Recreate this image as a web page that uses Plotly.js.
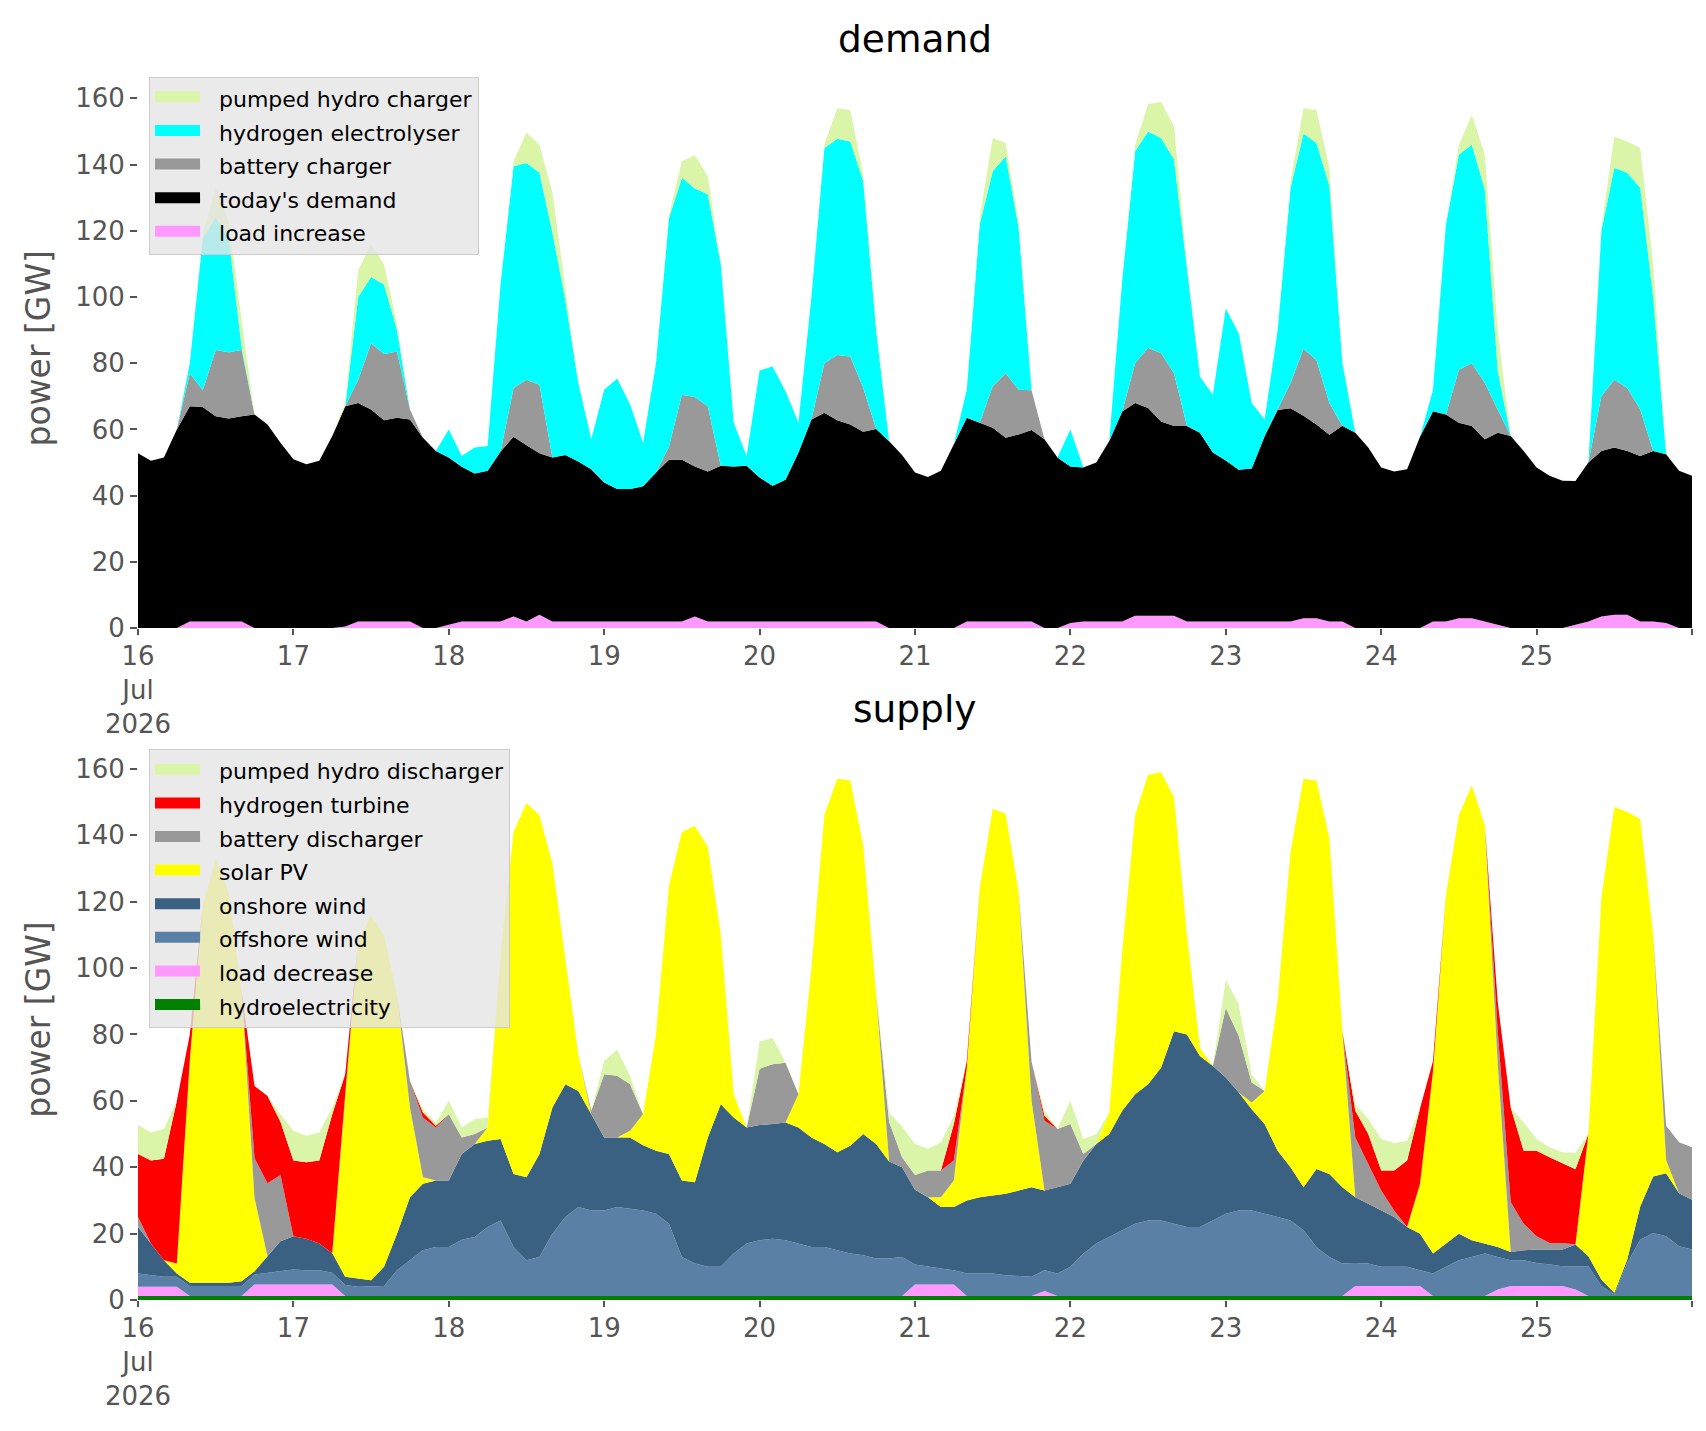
<!DOCTYPE html>
<html>
<head>
<meta charset="utf-8">
<script src="https://cdn.plot.ly/plotly-3.0.1.min.js"></script>
<style>
  html, body { margin: 0; padding: 0; background: #ffffff; }
  #chart { width: 1706px; height: 1431px; }
</style>
</head>
<body>
<div id="chart"></div>
<script>
// 2-hourly samples, 16 Jul 2026 00:00 -> 26 Jul 2026 00:00 (one row per day)
var startDate = Date.UTC(2026, 6, 16, 0);
var stepHours = 2;

var dayTicks = ['2026-07-16', '2026-07-17', '2026-07-18', '2026-07-19', '2026-07-20',
                '2026-07-21', '2026-07-22', '2026-07-23', '2026-07-24', '2026-07-25', '2026-07-26'];
var dayLabels = ['16<br>Jul<br>2026', '17', '18', '19', '20', '21', '22', '23', '24', '25', ''];

// ---- demand side [GW]
var loadIncrease = [
  0,0,0,0,2,2,2,2,2,0,0,0,
  0,0,0,0,0.5,2,2,2,2,2,0,0,
  1,2,2,2,2,3.5,2,4,2,2,2,2,
  2,2,2,2,2,2,2,3.5,2,2,2,2,
  2,2,2,2,2,2,2,2,2,2,0,0,
  0,0,0,0,2,2,2,2,2,2,0,0,
  1.5,2,2,2,2,3.7,3.7,3.7,3.7,2,2,2,
  2,2,2,2,2,2,3,3,2,2,0,0,
  0,0,0,0,2,2,3,3,2,1,0,0,
  0,0,0,1,2,3.5,4,4,2,2,1.5,0,
  0];

var todaysDemand = [
  52.8,50.5,51.5,60,65,64.8,62,61.3,62,64.5,61.5,56,
  51,49.5,50.5,58,66.5,66,64,60.8,61.5,61,57.5,53.5,
  50.5,46.7,44.7,45.5,51.3,54.3,53.2,48.8,49.5,50.3,48.3,46,
  42,40,40,40.8,45,48.8,48.8,45.3,45.3,47,46.8,47,
  43.5,41,42.8,51,61,63,60.8,59.5,57.3,58.1,56.4,52.3,
  47,45.6,47.5,55.5,61.5,60,58.5,55.5,56.5,57.8,57,51.5,
  47.3,46.5,48,54.5,63.4,64.3,62.8,58.7,57.3,59,57,51,
  48.6,45.8,46.2,56,63.9,64.4,61.1,58.5,56.4,59.1,59,54.5,
  48.5,47.3,48,57.8,63.5,62.5,59,58,55,58,58,53.5,
  48.5,46,44.5,43.4,48,50,50.5,49.5,50,51.5,51,47.5,
  46];

var batteryCharger = [
  0,0,0,0,10,5,20,20,20,0,0,0,
  0,0,0,0,0,7,20,20,20,3,0,0,
  0,0,0,0,0,14.7,19.8,20.7,0,0,0,0,
  0,0,0,0,0,4,19.7,21,19.7,0,0,0,
  0,0,0,0,0,15,19.7,20.5,13.3,0,0,0,
  0,0,0,0,0,0,12.5,19.5,13.5,12,0,0,
  0,0,0,0,0,12,18.2,20.6,16,0,0,0,
  0,0,0,0,0,7.6,20.3,19.5,9.6,0,0,0,
  0,0,0,0,0,0,16,19,17,7,0,0,
  0,0,0,0,0,16.5,20.5,19,14,0,0,0,
  0];

var electrolyser = [
  0,0,0,0,3,46,40,34.7,1,0,0,0,
  0,0,0,0,0,25,20,21,6.5,0,0,0,
  8.5,3.3,7.8,7.5,50.7,67,65.5,64,68,46.7,23.7,9,
  28,33.4,25.5,13.2,33,69,65.5,63,64,61,13.2,3,
  32.3,36,26.7,9,37,65,65.3,65,62.4,29.9,0,0,
  0,0,0,0,8.5,60,65,65.5,49,0,0,0,
  11.2,0,0,0,39.6,64,65.3,65,64.5,47,17,17.5,
  45.9,41.2,19.8,5,24,59,65,65.5,65.5,19,0,0,
  0,0,0,0,6.5,57.5,65,66,58.5,11.7,0,0,
  0,0,0,0,0,50,64,65,67,46.5,0,0,
  0];

var pumpedCharger = [
  0,0,0,0,0,1,9,5,8,0,0,0,
  0,0,0,0,1,8,10,6,2,0,0,0,
  0,0,0,0,0,1.5,9.2,8.5,12,4,0,0,
  0,0,0,0,0,1,5,10,5.5,0,0,0,
  0,0,0,0,0,1,9.2,9.5,2,2,0,0,
  0,0,0,0,0,2,10,4,2,0,0,0,
  0,0,0,0,0,2,8.2,11,10,2,0,0,
  0,0,0,0,0,2,7.6,10,5.5,1,0,0,
  0,0,0,0,0,0,3,9,10.5,12,0,0,
  0,0,0,0,0,1,9.5,9.5,12,10,0,0,
  0];

// ---- supply side [GW]
var hydro = [
  1.2,1.2,1.2,1.2,1.2,1.2,1.2,1.2,1.2,1.2,1.2,1.2,
  1.2,1.2,1.2,1.2,1.2,1.2,1.2,1.2,1.2,1.2,1.2,1.2,
  1.2,1.2,1.2,1.2,1.2,1.2,1.2,1.2,1.2,1.2,1.2,1.2,
  1.2,1.2,1.2,1.2,1.2,1.2,1.2,1.2,1.2,1.2,1.2,1.2,
  1.2,1.2,1.2,1.2,1.2,1.2,1.2,1.2,1.2,1.2,1.2,1.2,
  1.2,1.2,1.2,1.2,1.2,1.2,1.2,1.2,1.2,1.2,1.2,1.2,
  1.2,1.2,1.2,1.2,1.2,1.2,1.2,1.2,1.2,1.2,1.2,1.2,
  1.2,1.2,1.2,1.2,1.2,1.2,1.2,1.2,1.2,1.2,1.2,1.2,
  1.2,1.2,1.2,1.2,1.2,1.2,1.2,1.2,1.2,1.2,1.2,1.2,
  1.2,1.2,1.2,1.2,1.2,1.2,1.2,1.2,1.2,1.2,1.2,1.2,
  1.2];

var loadDecrease = [
  2.8,2.8,2.8,2.8,0,0,0,0,0,3.5,3.5,3.5,
  3.5,3.5,3.5,3.5,0,0,0,0,0,0,0,0,
  0,0,0,0,0,0,0,0,0,0,0,0,
  0,0,0,0,0,0,0,0,0,0,0,0,
  0,0,0,0,0,0,0,0,0,0,0,0,
  3.5,3.5,3.5,3.5,0,0,0,0,0,0,1.5,0,
  0,0,0,0,0,0,0,0,0,0,0,0,
  0,0,0,0,0,0,0,0,0,0,3,3,
  3,3,3,3,0,0,0,0,0,2,3,3,
  3,3,3,2,0,0,0,0,0,0,0,0,
  0];

var offshoreWind = [
  4,3.5,3,3,3,3,3,3,3,3,3.5,4,
  4.5,4.3,4.3,3.5,3.3,2.8,2.8,3,7.8,10.8,13.8,14.8,
  14.8,17,17.8,20.8,22.8,14.8,10.8,11.8,18.8,23.8,26.8,25.8,
  25.8,26.8,26.3,25.8,24.8,21.8,11.8,9.8,8.8,8.8,12.8,15.8,
  16.8,17.3,16.8,15.8,14.8,14.8,13.8,12.8,12.3,11.3,11.3,11.8,
  6,5.3,4.8,4.3,6.8,6.8,6.8,6.3,6,5.8,6.3,6.8,
  8.8,12.8,15.8,17.8,19.8,21.8,22.8,22.8,21.8,20.8,20.8,22.8,
  24.8,25.8,25.8,24.8,23.8,22.8,19.8,14.8,11.8,9.8,7,6.8,
  5.8,5.8,5.8,4.8,6.8,8.8,10.8,11.8,12.8,9.8,7.8,7.8,
  7,6.5,6,7,9,3,0.5,10,17,19,18,15,
  14];

var onshoreWind = [
  14,9.5,5,1,1,1,1,1,1.5,1,5,9,
  10,9.5,8,6,2.5,2.5,2,5.8,11,19,20,20,
  20,25.8,28,26,24.5,22,25,31,38,40,35,29,
  22,21,21.5,19.6,19,21,23,24.5,39,49,41,35,
  34.7,34.5,35.5,35,33,31,29.5,32.5,36.5,34.5,29.2,27,
  22.5,21,18.5,19,22,23,23.5,24.5,25.8,27,24,26,
  25,28,30,31,36,39,41,46,58,58,51.5,46.5,
  41,35.5,30.5,27,20,16,13,23.5,25,23,19.8,18,
  17,15,12,11,6,7,8,5,3,3,2.5,3,
  4,4.5,5,6.5,3,2,0.5,1,10,17,19,16,
  15];

var solarPV = [
  0,0,0,3,67,113.6,127.8,117.8,87.3,22,0,0,
  0,0,0,0,55,101.5,110,99.8,72,27,2,0,
  0,0,0,4,55.5,103,112.7,102,73.5,38,11,0,
  0,0,2,9.4,35,80.8,105,107.3,87.5,51,7,0,
  0,0,0,10,51,99,112.5,110,87,45,0,0,
  0,0,3,8,40,93,116.5,114.5,90,26,0,0,
  0,0,0,6.5,48,84,93.2,89,70.5,30,2.5,0,
  0,0,2,10,45,95,123,117,101,47,0,0,
  0,0,0,15,55,105,126,137,126,55,0,0,
  0,0,0,0,36.8,114.8,146.3,134.8,116.8,72.8,4,0,
  0];

var batteryDischarger = [
  3,0,0,0,0,0,0,0,0,12,22,20,
  0,0,0,0,0,0,0,0,0,8,18,16,
  20,5,3,0,0,0,0,0,0,0,0,1,
  19,18.6,14,0,0,0,0,0,0,0,0,0,
  17,18,18,0,0,0,0,0,0,0,12,3,
  4.5,8,8,6,0,0,0,0,0,11.8,21,17.5,
  18,2,0,0,0,0,0,0,0,0,0,0,
  21,17,6,0,0,0,0,0,0,0,18,12,
  6,2,0,0,0,0,0,0,0,10,15,8,
  4,2,2,0,0,0,0,0,0,0,10.3,15.3,
  15.8];

var hydrogenTurbine = [
  19,25,30.6,49,7.8,0,0,0,0,21.8,26.3,16,
  22.8,23,25,41.8,6,0,0,0,0,0,1.5,0.5,
  0,0,0,0,0,0,0,0,0,0,0,0,
  0,0,0,0,0,0,0,0,0,0,0,0,
  0,0,0,0,0,0,0,0,0,0,0,0,
  0,0,0,11,2,0,0,0,0,0,1.5,0,
  0,0,0,0,0,0,0,0,0,0,0,0,
  0,0,0,0,0,0,0,0,0,0,8,9,
  6,12,20,22.8,3,0,0,0,0,8.7,28.5,22,
  25.8,25.8,24,22.7,0,0,0,0,0,0,0,0,
  0];

var pumpedDischarger = [
  8.8,8.5,8.9,0,0,0,0,0,0,0,0,2.3,
  9,8,8.5,2,0,0,0,0,0,0,1,1,
  4,3,4.5,3,0,0,0,0,0,0,0,0,
  4,7.8,2.5,0,0,0,0,0,0,0,0,0,
  8.1,8,0,0,0,0,0,0,0,0,2.7,9.3,
  9.3,6.6,8.5,2.5,0,0,0,0,0,0,1.5,0,
  7,4.5,3,0,0,0,0,0,0,0,0,0,
  8.5,9.5,2.5,0,0,0,0,0,0,0,2,4.5,
  9.5,8.3,6,0,0,0,0,0,0,0,0,8.5,
  3.5,3,3.3,5,0,0,0,0,0,0,0,0,
  0];

var colors = {
  pumped: '#daf5a8',
  electrolyser: '#00ffff',
  battery: '#999999',
  demand: '#000000',
  load: '#ff99ff',
  turbine: '#ff0000',
  solar: '#ffff00',
  onshore: '#3b6182',
  offshore: '#5b80a6',
  hydro: '#008000'
};

var FONT = 'DejaVu Sans, Verdana, sans-serif';
var GAP = '\u00a0\u00a0';

var times = [];
for (var i = 0; i < todaysDemand.length; i++) {
  var d = new Date(startDate + i * stepHours * 3600 * 1000);
  times.push(d.toISOString().slice(0, 16).replace('T', ' '));
}

// stacked area trace (no legend entry of its own)
function createTrace(name, y, color, group, xa, ya) {
  return {
    x: times,
    y: y,
    name: name,
    type: 'scatter',
    mode: 'lines',
    stackgroup: group,
    line: { width: 0, color: color },
    fillcolor: color,
    xaxis: xa,
    yaxis: ya,
    showlegend: false,
    hoverinfo: 'skip'
  };
}

// legend-only entry, drawn as a filled patch
function createLegendEntry(name, color, xa, ya, legend, rank) {
  return {
    x: [null],
    y: [null],
    name: GAP + name,
    type: 'scatter',
    mode: 'lines',
    fill: 'toself',
    fillcolor: color,
    line: { width: 10, color: color },
    xaxis: xa,
    yaxis: ya,
    legend: legend,
    legendgroup: name,
    legendrank: rank,
    hoverinfo: 'skip'
  };
}

var data = [
  // demand, bottom to top
  createTrace('load increase', loadIncrease, colors.load, 'demand', 'x', 'y'),
  createTrace("today's demand", todaysDemand, colors.demand, 'demand', 'x', 'y'),
  createTrace('battery charger', batteryCharger, colors.battery, 'demand', 'x', 'y'),
  createTrace('hydrogen electrolyser', electrolyser, colors.electrolyser, 'demand', 'x', 'y'),
  createTrace('pumped hydro charger', pumpedCharger, colors.pumped, 'demand', 'x', 'y'),
  // supply, bottom to top
  createTrace('hydroelectricity', hydro, colors.hydro, 'supply', 'x2', 'y2'),
  createTrace('load decrease', loadDecrease, colors.load, 'supply', 'x2', 'y2'),
  createTrace('offshore wind', offshoreWind, colors.offshore, 'supply', 'x2', 'y2'),
  createTrace('onshore wind', onshoreWind, colors.onshore, 'supply', 'x2', 'y2'),
  createTrace('solar PV', solarPV, colors.solar, 'supply', 'x2', 'y2'),
  createTrace('battery discharger', batteryDischarger, colors.battery, 'supply', 'x2', 'y2'),
  createTrace('hydrogen turbine', hydrogenTurbine, colors.turbine, 'supply', 'x2', 'y2'),
  createTrace('pumped hydro discharger', pumpedDischarger, colors.pumped, 'supply', 'x2', 'y2'),
  // legends, top to bottom
  createLegendEntry('pumped hydro charger', colors.pumped, 'x', 'y', 'legend', 1),
  createLegendEntry('hydrogen electrolyser', colors.electrolyser, 'x', 'y', 'legend', 2),
  createLegendEntry('battery charger', colors.battery, 'x', 'y', 'legend', 3),
  createLegendEntry("today's demand", colors.demand, 'x', 'y', 'legend', 4),
  createLegendEntry('load increase', colors.load, 'x', 'y', 'legend', 5),
  createLegendEntry('pumped hydro discharger', colors.pumped, 'x2', 'y2', 'legend2', 1),
  createLegendEntry('hydrogen turbine', colors.turbine, 'x2', 'y2', 'legend2', 2),
  createLegendEntry('battery discharger', colors.battery, 'x2', 'y2', 'legend2', 3),
  createLegendEntry('solar PV', colors.solar, 'x2', 'y2', 'legend2', 4),
  createLegendEntry('onshore wind', colors.onshore, 'x2', 'y2', 'legend2', 5),
  createLegendEntry('offshore wind', colors.offshore, 'x2', 'y2', 'legend2', 6),
  createLegendEntry('load decrease', colors.load, 'x2', 'y2', 'legend2', 7),
  createLegendEntry('hydroelectricity', colors.hydro, 'x2', 'y2', 'legend2', 8)
];

function createXAxis(anchor) {
  return {
    type: 'date',
    anchor: anchor,
    domain: [0, 1],
    range: ['2026-07-16 00:00', '2026-07-26 00:00'],
    tickmode: 'array',
    tickvals: dayTicks,
    ticktext: dayLabels,
    ticks: 'outside',
    ticklen: 6,
    tickwidth: 1.5,
    tickcolor: '#555555',
    ticklabelstandoff: -1,
    tickfont: { family: FONT, size: 26, color: '#555555' },
    showgrid: false,
    zeroline: false,
    showline: false
  };
}

function createYAxis(anchor, domain) {
  return {
    anchor: anchor,
    domain: domain,
    range: [0, 169],
    tickvals: [0, 20, 40, 60, 80, 100, 120, 140, 160],
    ticks: 'outside',
    ticklen: 7,
    tickwidth: 1.5,
    tickcolor: '#555555',
    tickfont: { family: FONT, size: 26, color: '#555555' },
    title: { text: 'power [GW]', font: { family: FONT, size: 33, color: '#555555' }, standoff: 14 },
    showgrid: false,
    zeroline: false,
    showline: false
  };
}

function createLegend(y) {
  return {
    x: 0.0071,
    y: y,
    xanchor: 'left',
    yanchor: 'top',
    bgcolor: 'rgba(229,229,229,0.8)',
    bordercolor: '#cccccc',
    borderwidth: 1,
    font: { family: FONT, size: 22, color: '#000000' },
    traceorder: 'grouped',
    tracegroupgap: 2,
    itemwidth: 45
  };
}

var layout = {
  width: 1706,
  height: 1431,
  margin: { l: 138, r: 14, t: 0, b: 0 },
  paper_bgcolor: '#ffffff',
  plot_bgcolor: '#ffffff',
  font: { family: FONT },
  showlegend: true,
  xaxis: createXAxis('y'),
  yaxis: createYAxis('x', [0.5611, 0.9521]),
  xaxis2: createXAxis('y2'),
  yaxis2: createYAxis('x2', [0.0915, 0.4836]),
  legend: createLegend(0.9465),
  legend2: createLegend(0.4766),
  annotations: [
    { text: 'demand', xref: 'paper', yref: 'paper', x: 0.5, y: 0.9730, xanchor: 'center', yanchor: 'middle',
      showarrow: false, font: { family: FONT, size: 37.5, color: '#000000' } },
    { text: 'supply', xref: 'paper', yref: 'paper', x: 0.5, y: 0.5045, xanchor: 'center', yanchor: 'middle',
      showarrow: false, font: { family: FONT, size: 37.5, color: '#000000' } }
  ]
};

Plotly.newPlot('chart', data, layout, { displayModeBar: false, responsive: false });
</script>
</body>
</html>
